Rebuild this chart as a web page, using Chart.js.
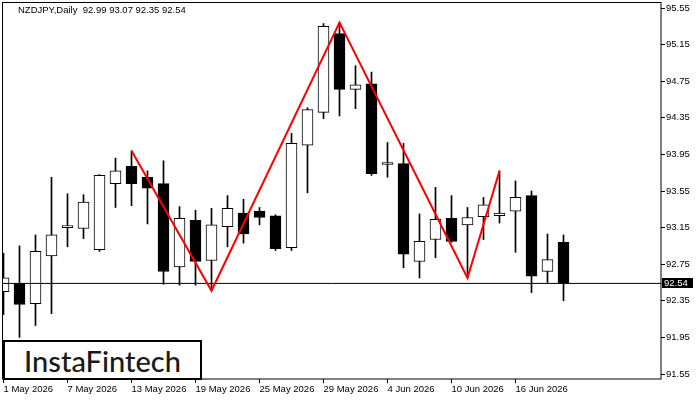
<!DOCTYPE html>
<html>
<head>
<meta charset="utf-8">
<script src="https://cdn.jsdelivr.net/npm/chart.js@4.4.0/dist/chart.umd.min.js"></script>
<style>
  body { margin: 0; background: #fff; }
  #wrap { position: relative; width: 700px; height: 400px; }
  #title { position: absolute; left: 18px; top: 4px; font: 9.5px "Liberation Sans", sans-serif; color: #000; white-space: pre; }
  #logo { position: absolute; left: 3px; top: 340px; width: 199px; height: 40px; box-sizing: border-box;
          border: 2px solid #000; background: #fff; font: 500 29px Lato, sans-serif; color: #1a1a1a;
          display: flex; align-items: center; justify-content: center; }
</style>
</head>
<body>
<div id="wrap">
  <canvas id="c" width="700" height="400"></canvas>
  <div id="title">NZDJPY,Daily  92.99 93.07 92.35 92.54</div>
  <div id="logo">InstaFintech</div>
</div>
<script>
// daily candles, 1 May 2026 .. 19 Jun 2026 (weekdays)
const opens  = [92.45, 92.54, 92.32, 92.84, 93.15, 93.14, 92.91, 93.63, 93.82, 93.70, 93.63, 92.72,
                93.23, 92.79, 93.16, 93.31, 93.33, 93.28, 92.93, 94.05, 94.41, 95.27, 94.66, 94.72,
                93.84, 93.85, 92.78, 93.02, 93.25, 93.18, 93.27, 93.28, 93.33, 93.50, 92.67, 92.99];
const highs  = [92.87, 92.95, 93.07, 93.70, 93.52, 93.51, 93.73, 93.91, 93.99, 93.77, 93.88, 93.38,
                93.34, 93.36, 93.50, 93.46, 93.37, 93.29, 94.18, 94.46, 95.38, 95.39, 94.92, 94.85,
                94.08, 94.07, 93.30, 93.59, 93.50, 93.37, 93.48, 93.77, 93.66, 93.55, 93.08, 93.07];
const lows   = [92.20, 91.95, 92.08, 92.21, 92.94, 93.03, 92.89, 93.37, 93.39, 93.19, 92.53, 92.52,
                92.52, 92.46, 92.94, 92.98, 93.18, 92.90, 92.90, 93.53, 94.34, 94.37, 94.45, 93.72,
                93.70, 92.71, 92.60, 92.82, 92.99, 92.60, 93.02, 93.20, 92.88, 92.44, 92.55, 92.35];
const closes = [92.60, 92.31, 92.89, 93.07, 93.15, 93.43, 93.72, 93.77, 93.63, 93.58, 92.67, 93.25,
                92.78, 93.18, 93.36, 93.08, 93.26, 92.92, 94.07, 94.44, 95.35, 94.66, 94.71, 93.74,
                93.85, 92.86, 93.00, 93.24, 93.00, 93.26, 93.40, 93.31, 93.48, 92.62, 92.80, 92.54];

// pattern line (bar index, price)
const patternIdx   = [8, 13, 21, 29, 31];
const patternPrice = [93.99, 92.46, 95.39, 92.60, 93.77];

const dateTickIdx    = [0, 4, 8, 12, 16, 20, 24, 28, 32];
const dateTickLabels = ['1 May 2026', '7 May 2026', '13 May 2026', '19 May 2026', '25 May 2026',
                        '29 May 2026', '4 Jun 2026', '10 Jun 2026', '16 Jun 2026'];
const priceTicks = [95.55, 95.15, 94.75, 94.35, 93.95, 93.55, 93.15, 92.75, 92.35, 91.95, 91.55];

const X_MIN = -0.094, X_MAX = 41.094;
const Y_MIN = 91.4954, Y_MAX = 95.6156;
const lastClose = closes[closes.length - 1];
const FONT = { family: 'Liberation Sans', size: 9.5 };

const wicks = lows.map((l, i) => ({ x: i, y: [l, highs[i]] }));
const bodies = opens.map((o, i) => ({ x: i, y: [o, closes[i]] }));
const bodyFill = opens.map((o, i) => closes[i] >= o ? '#ffffff' : '#000000');

const frame = {
  id: 'frame',
  afterDraw(chart) {
    const { ctx, chartArea: a } = chart;
    ctx.save();
    ctx.strokeStyle = '#000';
    ctx.lineWidth = 1;
    ctx.strokeRect(a.left + 0.5, a.top + 0.5, a.right - a.left - 0.5, a.bottom - a.top - 0.5);
    // last price tag
    const y = Math.round(chart.scales.y.getPixelForValue(lastClose));
    ctx.fillStyle = '#000';
    ctx.fillRect(a.right + 1, y - 5, 31, 10);
    ctx.fillStyle = '#fff';
    ctx.font = '9.5px "Liberation Sans"';
    ctx.textBaseline = 'middle';
    ctx.fillText(lastClose.toFixed(2), a.right + 3, y + 0.5);
    ctx.restore();
  }
};

new Chart(document.getElementById('c'), {
  type: 'bar',
  data: {
    datasets: [
      { type: 'line', data: patternIdx.map((x, i) => ({ x, y: patternPrice[i] })),
        borderColor: '#ff0000', borderWidth: 2, pointRadius: 0, tension: 0, order: 0 },
      { type: 'line', data: [{ x: X_MIN, y: lastClose }, { x: X_MAX, y: lastClose }],
        borderColor: '#000', borderWidth: 1, pointRadius: 0, order: 1 },
      { data: bodies, backgroundColor: bodyFill, borderColor: '#000', borderWidth: 1,
        borderSkipped: false, barThickness: 11, minBarLength: 2, grouped: false, order: 2 },
      { data: wicks, backgroundColor: '#000', borderWidth: 0,
        barThickness: 1, grouped: false, order: 3 }
    ]
  },
  options: {
    responsive: false,
    animation: false,
    layout: { padding: { left: 2, top: 2, right: 0, bottom: 0 } },
    plugins: { legend: { display: false }, tooltip: { enabled: false } },
    scales: {
      x: {
        type: 'linear', min: X_MIN, max: X_MAX, offset: false,
        afterFit: s => { s.height = 21; s.paddingLeft = 0; s.paddingRight = 0; },
        afterBuildTicks: s => { s.ticks = dateTickIdx.map(v => ({ value: v })); },
        grid: { drawOnChartArea: false, tickLength: 4, color: '#000', offset: false },
        border: { display: false },
        ticks: { font: FONT, color: '#000', align: 'start', padding: 1, maxRotation: 0, autoSkip: false,
                 callback: v => dateTickLabels[dateTickIdx.indexOf(v)] }
      },
      y: {
        position: 'right', min: Y_MIN, max: Y_MAX,
        afterFit: s => { s.width = 39; s.paddingTop = 0; s.paddingBottom = 0; },
        afterBuildTicks: s => { s.ticks = priceTicks.map(v => ({ value: v })); },
        grid: { drawOnChartArea: false, tickLength: 4, color: '#000' },
        border: { display: false },
        ticks: { font: FONT, color: '#000', padding: 1, callback: v => v.toFixed(2) }
      }
    }
  },
  plugins: [frame]
});
</script>
</body>
</html>
